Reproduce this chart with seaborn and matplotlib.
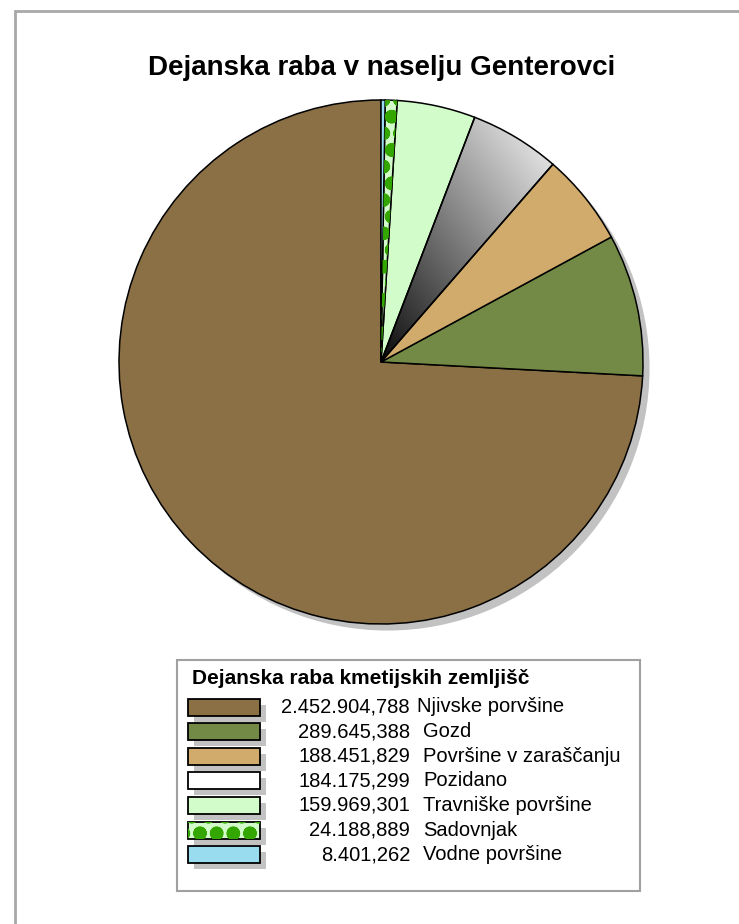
import numpy as np
import matplotlib
matplotlib.use('Agg')
import matplotlib.pyplot as plt
from matplotlib.patches import Rectangle, Circle, Wedge
import seaborn as sns

# data
labels = ['Njivske porvšine', 'Gozd', 'Površine v zaraščanju', 'Pozidano',
          'Travniške površine', 'Sadovnjak', 'Vodne površine']
values = [2452904.788, 289645.388, 188451.829, 184175.299, 159969.301, 24188.889, 8401.262]
value_text = ['2.452.904,788', '289.645,388', '188.451,829', '184.175,299',
              '159.969,301', '24.188,889', '8.401,262']
colors = ['#8b7046', '#738a46', '#d0ab6b', '#ffffff', '#d2fcca', '#d2fcca', '#99dcf0']
title = 'Dejanska raba v naselju Genterovci'
legend_title = 'Dejanska raba kmetijskih zemljišč'

sns.set_theme(style='white')
plt.rcParams['font.family'] = ['Liberation Sans', 'DejaVu Sans']
plt.rcParams['text.color'] = 'black'
plt.rcParams['hatch.linewidth'] = 5.0

W, H = 739, 924
fig = plt.figure(figsize=(W/100, H/100), dpi=100)

def px(x, y, w, h):
    # pixel box (top-left origin) -> figure fraction
    return [x/W, 1-(y+h)/H, w/W, h/H]

# outer frame
fig.add_artist(Rectangle((15/W, -0.1), 1.2, 1-11/H+0.1, transform=fig.transFigure,
                         fill=False, edgecolor='#a8a8a8', lw=2))

fig.text(382/W, 1-68/H, title, ha='center', va='center', fontsize=20, fontweight='bold')

# pie
cx, cy, R = 381, 362, 262
lim = 1.1
ax = fig.add_axes(px(cx-R*lim, cy-R*lim, 2*R*lim, 2*R*lim))
ax.add_patch(Circle((0.025, -0.025), 1.0, facecolor='#c2c2c2', edgecolor='none', zorder=0))
wedges, _ = ax.pie(values, colors=colors, startangle=90, counterclock=True, radius=1,
                   wedgeprops=dict(edgecolor='black', linewidth=1.1))
for w in wedges:
    w.set_zorder(2)

# gradient for Pozidano
gx, gy = np.meshgrid(np.linspace(-1, 1, 400), np.linspace(-1, 1, 400))
grad = gx*0.8 + gy*0.6
im = ax.imshow(grad, extent=[-1, 1, -1, 1], origin='lower', cmap='gray',
               vmin=-0.05, vmax=1.12, zorder=1.5)
im.set_clip_path(wedges[3])
wedges[3].set_facecolor('none')
wedges[3].set_zorder(2.5)

# dots for Sadovnjak
s = wedges[5]
dots = Wedge(s.center, s.r, s.theta1, s.theta2, fill=False, edgecolor='#33a600',
             lw=0, hatch='o', zorder=2.2)
ax.add_patch(dots)

ax.set_xlim(-lim, lim)
ax.set_ylim(-lim, lim)
ax.set_aspect('equal')
ax.axis('off')

# legend
lx, ly, lw_, lh = 177, 660, 463, 231
lax = fig.add_axes(px(lx, ly, lw_, lh))
lax.set_xlim(0, lw_)
lax.set_ylim(lh, 0)
lax.axis('off')
lax.add_patch(Rectangle((0, 0), lw_, lh, fill=False, edgecolor='#a0a0a0', lw=1.5, clip_on=False))
lax.text(15, 18, legend_title, ha='left', va='center', fontsize=15, fontweight='bold')
for i, (lab, vt, c) in enumerate(zip(labels, value_text, colors)):
    yc = 47 + i*24.6
    lax.add_patch(Rectangle((17, yc-8.5+6), 72, 17, facecolor='#c2c2c2', edgecolor='none'))
    lax.add_patch(Rectangle((11, yc-8.5), 72, 17, facecolor=c, edgecolor='black', lw=1.3))
    if lab == 'Sadovnjak':
        lax.add_patch(Rectangle((11, yc-8.5), 72, 17, fill=False, edgecolor='#33a600',
                                lw=0, hatch='o'))
    lax.text(233, yc, vt, ha='right', va='center', fontsize=14.5)
    lax.text(246 if i else 240, yc, lab, ha='left', va='center', fontsize=14.5)

fig.savefig('out.png', dpi=100)
